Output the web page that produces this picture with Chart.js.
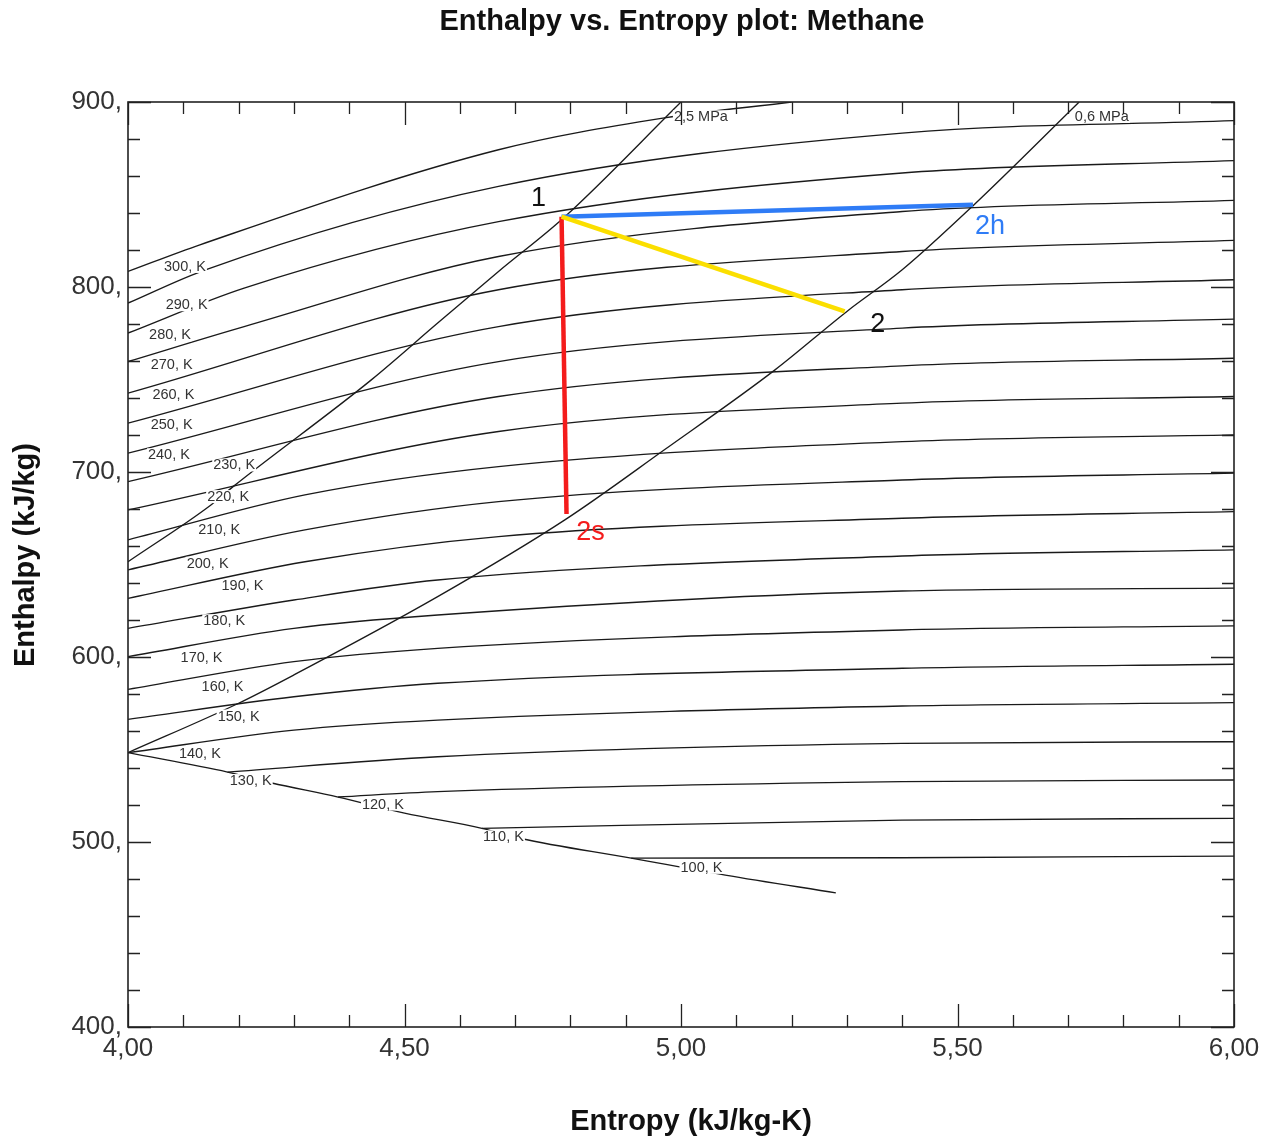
<!DOCTYPE html>
<html>
<head>
<meta charset="utf-8">
<title>Enthalpy vs. Entropy plot: Methane</title>
<script src="https://cdn.jsdelivr.net/npm/chart.js@4/dist/chart.umd.min.js"></script>
<style>
  html, body { margin: 0; padding: 0; background: #ffffff; }
  #wrap { width: 1274px; height: 1139px; }
</style>
</head>
<body>
<div id="wrap"><canvas id="hs" width="1274" height="1139"></canvas></div>
<script>
// ---------------- data (s in kJ/kg-K, h in kJ/kg) ----------------

// Isotherms of methane, one row per temperature
const isothermTemps = [100, 110, 120, 130, 140, 150, 160, 170, 180, 190, 200,
                       210, 220, 230, 240, 250, 260, 270, 280, 290, 300];
const isothermS = [
  [4.91, 5.40, 6.00],
  [4.64, 5.40, 6.00],
  [4.38, 4.56, 5.40, 6.00],
  [4.18, 4.56, 5.40, 6.00],
  [4.00, 4.30, 4.56, 5.40, 6.00],
  [4.00, 4.30, 4.56, 5.40, 6.00],
  [4.00, 4.30, 4.56, 5.40, 6.00],
  [4.00, 4.30, 4.56, 5.40, 6.00],
  [4.00, 4.30, 4.56, 5.40, 6.00],
  [4.00, 4.32, 4.67, 5.40, 6.00],
  [4.00, 4.32, 4.67, 5.40, 6.00],
  [4.00, 4.32, 4.67, 5.40, 6.00],
  [4.00, 4.67, 5.40, 6.00],
  [4.00, 4.67, 5.40, 6.00],
  [4.00, 4.67, 5.40, 6.00],
  [4.00, 4.67, 5.40, 6.00],
  [4.00, 4.67, 5.40, 6.00],
  [4.00, 4.21, 4.67, 5.40, 6.00],
  [4.00, 4.21, 4.67, 5.40, 6.00],
  [4.00, 4.14, 4.67, 5.40, 6.00],
  [4.00, 4.13, 4.67, 4.97, 5.20]
];
const isothermH = [
  [491.3, 491.5, 492.4],
  [507.4, 511.8, 512.8],
  [524.3, 527.2, 532.6, 533.5],
  [537.8, 546.1, 553.3, 554.2],
  [548.3, 560.5, 565.9, 573.5, 575.3],
  [566.3, 578.5, 585.8, 593.9, 596.1],
  [582.5, 597.5, 604.7, 614.6, 616.8],
  [600.2, 615.5, 622.7, 635.7, 637.2],
  [615.5, 630.8, 641.6, 654.6, 657.9],
  [631.7, 651.5, 665.1, 675.0, 678.6],
  [647.1, 668.7, 684.0, 695.7, 699.4],
  [663.3, 687.6, 702.9, 716.4, 720.1],
  [679.5, 721.9, 737.2, 740.8],
  [694.8, 740.8, 757.4, 761.5],
  [710.2, 759.7, 777.8, 782.6],
  [726.4, 778.6, 798.5, 803.9],
  [742.6, 798.5, 819.2, 825.2],
  [759.7, 778.6, 816.5, 840.8, 846.8],
  [775.1, 799.4, 835.3, 861.6, 868.3],
  [791.3, 809.3, 854.4, 883.2, 889.9],
  [808.4, 822.8, 874.2, 891.4, 900.0]
];

// Saturated vapour boundary
const satVaporS = [4.00, 4.18, 4.26, 4.38, 4.50, 4.64, 4.71, 4.91, 5.08, 5.28];
const satVaporH = [548.3, 537.8, 531.9, 524.3, 515.6, 507.4, 501.9, 491.3, 482.1, 472.5];

// Isobars
const isobarNames = ['2,5 MPa', '0,6 MPa'];
const isobar25S = [4.00, 4.15, 4.19, 4.44, 4.56, 4.67, 4.79, 5.00];
const isobar25H = [651.5, 682.2, 692.1, 749.8, 780.5, 808.4, 838.0, 900.0];
const isobar06S = [4.00, 4.20, 4.30, 4.56, 4.79, 4.97, 5.17, 5.30, 5.40, 5.53, 5.72];
const isobar06H = [548.3, 575.0, 590.3, 632.6, 674.1, 712.0, 755.2, 786.8, 809.3, 844.5, 900.0];

// Process states: 1 = inlet, 2 = actual outlet, 2h = isenthalpic, 2s = isentropic
const stateNames = ['1', '2', '2h', '2s'];
const stateS = [4.784, 5.296, 5.528, 4.793];
const stateH = [838.0, 786.8, 844.5, 677.3];

// Axis tick labels
const sTicks = [4.0, 4.5, 5.0, 5.5, 6.0];
const hTicks = [400, 500, 600, 700, 800, 900];

// ---------------- presentation ----------------
const FONT = '"Liberation Sans", Arial, Helvetica, sans-serif';
const INK = '#1a1a1a';
const TEXT = '#333333';

// where each isotherm / isobar label sits (s, h of the label centre)
const isothermLabelPos = [
  [5.037, 486.3], [4.679, 502.8], [4.461, 520.5], [4.222, 533.2], [4.130, 547.9],
  [4.200, 568.1], [4.171, 584.3], [4.133, 599.8], [4.174, 619.6], [4.207, 638.4],
  [4.144, 650.7], [4.165, 668.7], [4.181, 686.7], [4.192, 703.8], [4.074, 709.3],
  [4.079, 725.5], [4.082, 741.7], [4.079, 757.9], [4.076, 774.2], [4.106, 790.4],
  [4.103, 811.1]
];
const isobarLabelPos = [[5.036, 892.0], [5.761, 892.2]];

// pixel offsets of state labels from their points
const stateLabelStyle = [
  { dx: -23, dy: -18, color: '#111111' },
  { dx: 33, dy: 13, color: '#111111' },
  { dx: 17, dy: 22, color: '#2f7cf6' },
  { dx: 24, dy: 19, color: '#f41c1c' }
];

const pts = (s, h) => s.map((v, i) => ({ x: v, y: h[i] }));
const curve = (s, h, extra) => Object.assign({
  data: pts(s, h), showLine: true, borderColor: INK, borderWidth: 1.35,
  pointRadius: 0, fill: false, cubicInterpolationMode: 'monotone'
}, extra || {});

const processLine = (a, b, color) => ({
  data: [{ x: stateS[a], y: stateH[a] }, { x: stateS[b], y: stateH[b] }],
  showLine: true, borderColor: color, borderWidth: 4.5, pointRadius: 0, fill: false
});

const datasets = [
  processLine(0, 1, '#fbdf00'),
  processLine(0, 2, '#2f7cf6'),
  processLine(0, 3, '#f41c1c'),
  curve(isobar25S, isobar25H),
  curve(isobar06S, isobar06H),
  curve(satVaporS, satVaporH)
];
isothermTemps.forEach((T, i) => datasets.push(curve(isothermS[i], isothermH[i])));

// labels, inward ticks, frame and titles
const decorations = {
  id: 'decorations',
  afterDatasetsDraw(chart) {
    const { ctx, chartArea: a, scales: { x, y } } = chart;
    ctx.save();
    ctx.beginPath();
    ctx.rect(a.left, a.top, a.right - a.left, a.bottom - a.top);
    ctx.clip();

    // isotherm and isobar labels on white boxes
    ctx.font = '14.5px ' + FONT;
    ctx.textAlign = 'center';
    ctx.textBaseline = 'middle';
    const boxed = (txt, s, h) => {
      const px = x.getPixelForValue(s), py = y.getPixelForValue(h);
      const w = ctx.measureText(txt).width;
      ctx.fillStyle = '#ffffff';
      ctx.fillRect(px - w / 2 - 1, py - 6.5, w + 2, 13);
      ctx.fillStyle = TEXT;
      ctx.fillText(txt, px, py + 0.5);
    };
    isothermTemps.forEach((T, i) => boxed(T + ', K', isothermLabelPos[i][0], isothermLabelPos[i][1]));
    isobarNames.forEach((n, i) => boxed(n, isobarLabelPos[i][0], isobarLabelPos[i][1]));

    // state labels
    ctx.font = '27px ' + FONT;
    stateNames.forEach((n, i) => {
      const st = stateLabelStyle[i];
      ctx.fillStyle = st.color;
      ctx.fillText(n, x.getPixelForValue(stateS[i]) + st.dx, y.getPixelForValue(stateH[i]) + st.dy);
    });
    ctx.restore();

    // tick marks pointing inward on all four sides
    ctx.save();
    ctx.strokeStyle = '#222222';
    ctx.lineWidth = 1.3;
    ctx.beginPath();
    for (let k = 0; k <= 20; k++) {
      const px = Math.round(x.getPixelForValue(4 + k * 0.1)) + 0.5;
      const len = k % 5 === 0 ? 23 : 12;
      ctx.moveTo(px, a.bottom); ctx.lineTo(px, a.bottom - len);
      ctx.moveTo(px, a.top); ctx.lineTo(px, a.top + len);
    }
    for (let k = 0; k <= 25; k++) {
      const py = Math.round(y.getPixelForValue(400 + k * 20)) + 0.5;
      const len = k % 5 === 0 ? 23 : 12;
      ctx.moveTo(a.left, py); ctx.lineTo(a.left + len, py);
      ctx.moveTo(a.right, py); ctx.lineTo(a.right - len, py);
    }
    ctx.stroke();
    ctx.lineWidth = 1.6;
    ctx.strokeRect(a.left, a.top, a.right - a.left, a.bottom - a.top);
    ctx.restore();
  },
  afterDraw(chart) {
    const { ctx } = chart;
    ctx.save();
    ctx.fillStyle = '#111111';
    ctx.font = 'bold 29px ' + FONT;
    ctx.textAlign = 'center';
    ctx.textBaseline = 'middle';
    ctx.fillText('Enthalpy vs. Entropy plot: Methane', 682, 22);
    ctx.fillText('Entropy (kJ/kg-K)', 691, 1122);
    ctx.translate(26, 555);
    ctx.rotate(-Math.PI / 2);
    ctx.fillText('Enthalpy (kJ/kg)', 0, 0);
    ctx.restore();
  }
};

new Chart(document.getElementById('hs'), {
  type: 'scatter',
  data: { datasets },
  options: {
    responsive: false,
    animation: false,
    devicePixelRatio: 1,
    events: [],
    layout: { padding: { top: 102, right: 40, bottom: 0, left: 0 } },
    plugins: { legend: { display: false }, tooltip: { enabled: false }, title: { display: false } },
    scales: {
      x: {
        type: 'linear', min: 4, max: 6,
        afterFit: s => { s.height = 112; },
        afterBuildTicks: s => { s.ticks = sTicks.map(v => ({ value: v })); },
        grid: { display: false, drawTicks: false },
        border: { display: false },
        ticks: {
          padding: 6, color: TEXT, font: { family: FONT, size: 26 },
          maxRotation: 0, autoSkip: false,
          callback: v => v.toFixed(2).replace('.', ',')
        }
      },
      y: {
        type: 'linear', min: 400, max: 900,
        afterFit: s => { s.width = 128; },
        afterBuildTicks: s => { s.ticks = hTicks.map(v => ({ value: v })); },
        grid: { display: false, drawTicks: false },
        border: { display: false },
        ticks: {
          padding: 6, color: TEXT, font: { family: FONT, size: 26 },
          autoSkip: false,
          callback: v => v + ','
        }
      }
    }
  },
  plugins: [decorations]
});
</script>
</body>
</html>
